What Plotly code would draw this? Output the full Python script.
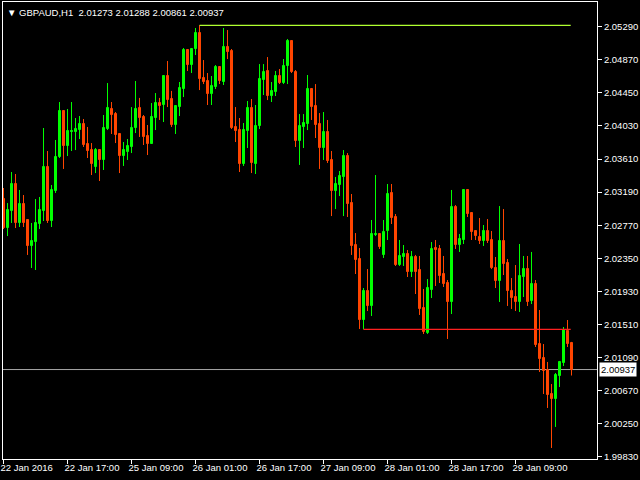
import plotly.graph_objects as go

symbol = "GBPAUD,H1"

opens = [2.03102, 2.02734, 2.02950, 2.03293, 2.02798, 2.03039, 2.02836, 2.02506, 2.02556, 2.02785,
         2.02950, 2.03509, 2.02823, 2.03204, 2.03636, 2.04220, 2.03775, 2.03953, 2.03953, 2.03978,
         2.04055, 2.03801, 2.03724, 2.03509, 2.03724, 2.03598, 2.03991, 2.04245, 2.04181, 2.03928,
         2.03648, 2.03699, 2.03763, 2.04004, 2.04258, 2.04144, 2.03902, 2.03801, 2.04131, 2.04321,
         2.04296, 2.04664, 2.04372, 2.04042, 2.04270, 2.04499, 2.04994, 2.04804, 2.05007, 2.05210,
         2.04639, 2.04601, 2.04436, 2.04524, 2.04778, 2.04588, 2.05032, 2.04982, 2.04017, 2.03978,
         2.03547, 2.03966, 2.04258, 2.03547, 2.04029, 2.04613, 2.04728, 2.04410, 2.04461, 2.04664,
         2.04575, 2.04791, 2.05108, 2.04715, 2.03839, 2.04017, 2.04055, 2.04499, 2.04283, 2.04055,
         2.03750, 2.03953, 2.03598, 2.03204, 2.03280, 2.03382, 2.03648, 2.03051, 2.02518, 2.02341,
         2.01566, 2.01934, 2.01744, 2.02645, 2.02658, 2.02392, 2.02696, 2.03179, 2.02874, 2.02264,
         2.02366, 2.02404, 2.02175, 2.02366, 2.02201, 2.01718, 2.01401, 2.01947, 2.02480, 2.02468,
         2.02150, 2.02036, 2.01795, 2.03001, 2.02518, 2.02582, 2.03217, 2.02924, 2.02696, 2.02620,
         2.02569, 2.02696, 2.02582, 2.02226, 2.02061, 2.02569, 2.02290, 2.01934, 2.01858, 2.01795,
         2.02112, 2.02213, 2.01807, 2.02023, 2.01261, 2.01084, 2.00931, 2.00626, 2.00563, 2.00855,
         2.01020, 2.01426, 2.01273]

highs = [2.03242, 2.03051, 2.03445, 2.03420, 2.03217, 2.03153, 2.02836, 2.02798, 2.03102, 2.03128,
         2.04004, 2.03712, 2.03280, 2.03852, 2.04334, 2.04232, 2.04245, 2.04334, 2.04131, 2.04156,
         2.04118, 2.04017, 2.03813, 2.03750, 2.03724, 2.04169, 2.04575, 2.04334, 2.04207, 2.03940,
         2.03826, 2.03864, 2.04270, 2.04601, 2.04386, 2.04169, 2.04042, 2.04321, 2.04448, 2.04386,
         2.04677, 2.04855, 2.04475, 2.04296, 2.04588, 2.05020, 2.05007, 2.05020, 2.05274, 2.05308,
         2.04867, 2.04702, 2.04664, 2.04804, 2.04791, 2.05274, 2.05248, 2.05007, 2.04270, 2.04131,
         2.04067, 2.04347, 2.04372, 2.04296, 2.04816, 2.04816, 2.04905, 2.04588, 2.04728, 2.04753,
         2.04880, 2.05134, 2.05121, 2.04740, 2.04181, 2.04181, 2.04677, 2.04512, 2.04562, 2.04194,
         2.04207, 2.04106, 2.03712, 2.03382, 2.03458, 2.03724, 2.03686, 2.03166, 2.02670, 2.02480,
         2.01972, 2.02213, 2.02836, 2.03407, 2.02658, 2.02836, 2.03293, 2.03293, 2.02912, 2.02582,
         2.02518, 2.02455, 2.02442, 2.02392, 2.02379, 2.01960, 2.02086, 2.02556, 2.02582, 2.02518,
         2.02379, 2.02074, 2.03217, 2.03026, 2.02658, 2.03217, 2.03229, 2.02924, 2.02696, 2.02861,
         2.02772, 2.02848, 2.02696, 2.02366, 2.03013, 2.02975, 2.02341, 2.02099, 2.02264, 2.02531,
         2.02379, 2.02379, 2.02430, 2.02074, 2.01693, 2.01261, 2.01033, 2.00753, 2.00893, 2.01046,
         2.01477, 2.01566, 2.01288]

lows = [2.02721, 2.02632, 2.02798, 2.02734, 2.02747, 2.02747, 2.02392, 2.02226, 2.02201, 2.02721,
        2.02823, 2.02798, 2.02747, 2.03179, 2.03623, 2.03484, 2.03648, 2.03712, 2.03724, 2.03864,
        2.03763, 2.03623, 2.03407, 2.03432, 2.03331, 2.03471, 2.03978, 2.03928, 2.03813, 2.03432,
        2.03522, 2.03598, 2.03686, 2.03940, 2.03890, 2.03788, 2.03661, 2.03801, 2.03978, 2.04106,
        2.04080, 2.04270, 2.04017, 2.03928, 2.04156, 2.04397, 2.04728, 2.04702, 2.04931, 2.04486,
        2.04562, 2.04296, 2.04296, 2.04499, 2.04562, 2.04550, 2.04880, 2.03991, 2.03826, 2.03445,
        2.03522, 2.03750, 2.03432, 2.03420, 2.03991, 2.04423, 2.04359, 2.04334, 2.04410, 2.04562,
        2.04562, 2.04562, 2.04702, 2.03763, 2.03535, 2.03750, 2.03978, 2.04106, 2.03877, 2.03484,
        2.03598, 2.03560, 2.02886, 2.02975, 2.03140, 2.02886, 2.02874, 2.02392, 2.02150, 2.01452,
        2.01448, 2.01680, 2.01617, 2.02632, 2.02468, 2.02354, 2.02582, 2.02785, 2.02252, 2.02252,
        2.02252, 2.02112, 2.02112, 2.01896, 2.01630, 2.01388, 2.01388, 2.01845, 2.01998, 2.02036,
        2.01985, 2.01325, 2.01642, 2.02468, 2.02430, 2.02531, 2.02874, 2.02582, 2.02582, 2.02531,
        2.02506, 2.02544, 2.02213, 2.01972, 2.01795, 2.02137, 2.01744, 2.01706, 2.01680, 2.01668,
        2.01858, 2.01744, 2.01769, 2.01223, 2.00906, 2.00626, 2.00449, 1.99941, 2.00208, 2.00715,
        2.00982, 2.01223, 2.00861]

closes = [2.02734, 2.02962, 2.03293, 2.02798, 2.03039, 2.02798, 2.02506, 2.02569, 2.02798, 2.02962,
          2.03509, 2.02823, 2.03217, 2.03636, 2.04220, 2.03775, 2.03966, 2.03966, 2.03991, 2.04055,
          2.03788, 2.03712, 2.03547, 2.03724, 2.03598, 2.04004, 2.04258, 2.04169, 2.03915, 2.03648,
          2.03724, 2.03775, 2.04004, 2.04245, 2.04131, 2.03890, 2.03801, 2.04144, 2.04321, 2.04283,
          2.04664, 2.04359, 2.04042, 2.04283, 2.04512, 2.04994, 2.04804, 2.05007, 2.05210, 2.04626,
          2.04588, 2.04436, 2.04537, 2.04778, 2.04601, 2.05032, 2.04969, 2.04004, 2.03966, 2.03547,
          2.03978, 2.04258, 2.03560, 2.04029, 2.04626, 2.04715, 2.04410, 2.04475, 2.04664, 2.04575,
          2.04791, 2.05108, 2.04715, 2.03839, 2.04029, 2.04067, 2.04499, 2.04270, 2.04042, 2.03750,
          2.03953, 2.03585, 2.03204, 2.03293, 2.03395, 2.03648, 2.03039, 2.02506, 2.02328, 2.01566,
          2.01934, 2.01744, 2.02658, 2.02658, 2.02493, 2.02683, 2.03166, 2.02861, 2.02264, 2.02379,
          2.02404, 2.02175, 2.02366, 2.02175, 2.01706, 2.01414, 2.01972, 2.02468, 2.02455, 2.02125,
          2.02023, 2.01795, 2.03001, 2.02518, 2.02595, 2.03217, 2.02912, 2.02683, 2.02632, 2.02569,
          2.02696, 2.02569, 2.02226, 2.02061, 2.02569, 2.02277, 2.01934, 2.01845, 2.01795, 2.02125,
          2.02213, 2.01795, 2.02023, 2.01249, 2.01071, 2.00918, 2.00614, 2.00563, 2.00868, 2.01033,
          2.01439, 2.01261, 2.00937]

x_tick_index = [0, 16, 32, 48, 64, 80, 96, 112, 128]
x_tick_labels = ["22 Jan 2016", "22 Jan 17:00", "25 Jan 09:00", "26 Jan 01:00", "26 Jan 17:00",
                 "27 Jan 09:00", "28 Jan 01:00", "28 Jan 17:00", "29 Jan 09:00"]
y_tick_values = [2.05290, 2.04870, 2.04450, 2.04030, 2.03610, 2.03190, 2.02770, 2.02350,
                 2.01930, 2.01510, 2.01090, 2.00670, 2.00250, 1.99830]

high_line_start = 49
support_line_start = 90
lines_end = 141.8

UP = "#00ff00"
DOWN = "#ff4500"
FONT = "Liberation Sans"
FS = 9.5

n = len(opens)
idx = list(range(n))

fig = go.Figure()

for is_up, col in [(True, UP), (False, DOWN)]:
    sel = [i for i in idx if (closes[i] > opens[i]) == is_up]
    wx, wy = [], []
    for i in sel:
        wx += [i, i, None]
        wy += [lows[i], highs[i], None]
    fig.add_trace(go.Scatter(x=wx, y=wy, mode="lines", line=dict(color=col, width=1),
                             hoverinfo="skip", showlegend=False))
    fig.add_trace(go.Bar(x=sel,
                         base=[min(opens[i], closes[i]) for i in sel],
                         y=[abs(closes[i] - opens[i]) for i in sel],
                         width=0.5,
                         marker=dict(color=col, line=dict(color=col, width=1)),
                         showlegend=False))

bid = closes[-1]
fig.add_shape(type="line", xref="paper", x0=0, x1=1, y0=bid, y1=bid,
              line=dict(color="#a6a6a6", width=1), layer="below")
fig.add_shape(type="line", x0=high_line_start, x1=lines_end,
              y0=highs[high_line_start], y1=highs[high_line_start],
              line=dict(color="#b0ff30", width=1.3))
fig.add_shape(type="line", x0=support_line_start, x1=lines_end,
              y0=lows[support_line_start], y1=lows[support_line_start],
              line=dict(color="#ff2020", width=1.3))

title = "\u25bc " + symbol + "\u00a0\u00a0" + " ".join(
    f"{v:.5f}" for v in (opens[-1], highs[-1], lows[-1], closes[-1]))
fig.add_annotation(xref="paper", yref="paper", x=0, y=1, xanchor="left", yanchor="top",
                   text=title, showarrow=False, xshift=2, yshift=-3,
                   font=dict(family=FONT, size=FS, color="white"))
fig.add_annotation(xref="paper", yref="y", x=1, y=bid, xanchor="left", yanchor="middle",
                   text=f"{bid:.5f}", showarrow=False, xshift=2, bgcolor="white",
                   borderpad=1, font=dict(family=FONT, size=FS, color="black"))

fig.update_layout(
    width=640, height=480,
    paper_bgcolor="black", plot_bgcolor="black",
    margin=dict(l=3, r=43, t=2, b=21, autoexpand=False),
    bargap=0, showlegend=False,
    xaxis=dict(range=[-0.125, 148.375], showgrid=False, zeroline=False, automargin=False,
               showline=True, linecolor="white", linewidth=1, mirror=True,
               tickmode="array", tickvals=x_tick_index, ticktext=x_tick_labels,
               tickangle=0, ticks="outside", ticklen=4, tickcolor="white",
               ticklabelposition="outside right", ticklabelshift=-4,
               tickfont=dict(family=FONT, size=FS, color="white")),
    yaxis=dict(range=[1.99801, 2.05604], side="right", showgrid=False, zeroline=False,
               automargin=False,
               showline=True, linecolor="white", linewidth=1, mirror=True,
               tickmode="array", tickvals=y_tick_values, tickformat=".5f",
               ticks="outside", ticklen=4, tickcolor="white",
               tickfont=dict(family=FONT, size=FS, color="white")),
)

fig.write_html("out.html", config={"displayModeBar": False},
               post_script="document.body.style.margin='0px';document.body.style.background='black';")
